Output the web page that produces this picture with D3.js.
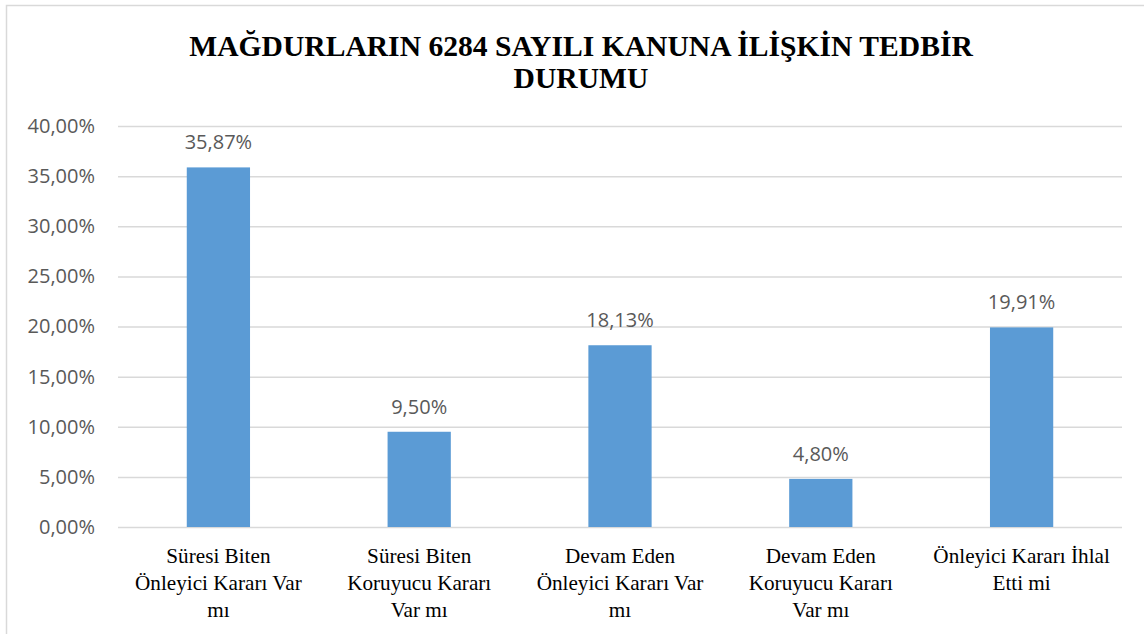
<!DOCTYPE html>
<html>
<head>
<meta charset="utf-8">
<script src="https://cdn.jsdelivr.net/npm/d3@7"></script>
<style>
  html, body { margin: 0; padding: 0; background: #fff; }
  svg { display: block; }
</style>
</head>
<body>
<svg id="chart"></svg>
<script>
let width = 1144;
let height = 634;

let titleLines = ['MAĞDURLARIN 6284 SAYILI KANUNA İLİŞKİN TEDBİR', 'DURUMU'];
let categories = [
    ['Süresi Biten', 'Önleyici Kararı Var', 'mı'],
    ['Süresi Biten', 'Koruyucu Kararı', 'Var mı'],
    ['Devam Eden', 'Önleyici Kararı Var', 'mı'],
    ['Devam Eden', 'Koruyucu Kararı', 'Var mı'],
    ['Önleyici Kararı İhlal', 'Etti mi']
];
let values = [35.87, 9.50, 18.13, 4.80, 19.91];
let ticks = [0, 5, 10, 15, 20, 25, 30, 35, 40];

let colorBar = '#5b9bd5';
let colorGrid = '#d9d9d9';
let colorTick = '#595959';
let colorText = '#000000';

let margin = {top: 126, right: 22, bottom: 107, left: 118};

let svg = d3.select('#chart').attr('width', width).attr('height', height);

// chart border
svg.append('rect')
    .attr('x', 6.5).attr('y', 5.5)
    .attr('width', width + 20).attr('height', height + 20)
    .attr('fill', 'none')
    .attr('stroke', colorGrid)
    .attr('stroke-width', 1.5);

let x = d3.scaleBand()
    .domain(d3.range(categories.length))
    .range([margin.left, width - margin.right])
    .paddingInner(0.685)
    .paddingOuter(0.3425);

let y = d3.scaleLinear()
    .domain([0, 40])
    .range([height - margin.bottom, margin.top]);

let fmt = v => d3.format('.2f')(v).replace('.', ',') + '%';

// title
svg.append('text')
    .attr('x', 581)
    .attr('y', 56)
    .attr('text-anchor', 'middle')
    .attr('font-family', '"Liberation Serif", "Times New Roman", serif')
    .attr('font-weight', 'bold')
    .attr('font-size', 29.6)
    .attr('fill', colorText)
    .selectAll('tspan')
    .data(titleLines)
    .join('tspan')
    .attr('x', 581)
    .attr('dy', (d, i) => i ? 32 : 0)
    .text(d => d);

// grid + y axis
let yAxis = d3.axisLeft(y)
    .tickValues(ticks)
    .tickSize(-(width - margin.left - margin.right))
    .tickPadding(23)
    .tickFormat(fmt);

let gy = svg.append('g')
    .attr('transform', `translate(${margin.left},0)`)
    .call(yAxis);
gy.select('.domain').remove();
gy.selectAll('.tick line')
    .attr('stroke', colorGrid)
    .attr('stroke-width', 1.5);
gy.selectAll('.tick text')
    .attr('fill', colorTick)
    .attr('font-family', '"Open Sans", sans-serif')
    .attr('font-size', 20);

// bars
svg.append('g')
    .selectAll('rect')
    .data(values)
    .join('rect')
    .attr('x', (d, i) => x(i))
    .attr('y', d => y(d))
    .attr('width', x.bandwidth())
    .attr('height', d => y(0) - y(d))
    .attr('fill', colorBar);

// value labels
svg.append('g')
    .selectAll('text')
    .data(values)
    .join('text')
    .attr('x', (d, i) => x(i) + x.bandwidth() / 2)
    .attr('y', d => y(d) - 18)
    .attr('text-anchor', 'middle')
    .attr('font-family', '"Open Sans", sans-serif')
    .attr('font-size', 20)
    .attr('fill', colorTick)
    .text(d => fmt(d));

// category labels
let cat = svg.append('g')
    .selectAll('text')
    .data(categories)
    .join('text')
    .attr('y', y(0) + 36)
    .attr('text-anchor', 'middle')
    .attr('font-family', '"Liberation Serif", "Times New Roman", serif')
    .attr('font-size', 21.2)
    .attr('fill', colorText);

cat.selectAll('tspan')
    .data((d, i) => d.map(line => ({line, i})))
    .join('tspan')
    .attr('x', d => x(d.i) + x.bandwidth() / 2)
    .attr('dy', (d, j) => j ? 27 : 0)
    .text(d => d.line);
</script>
</body>
</html>
